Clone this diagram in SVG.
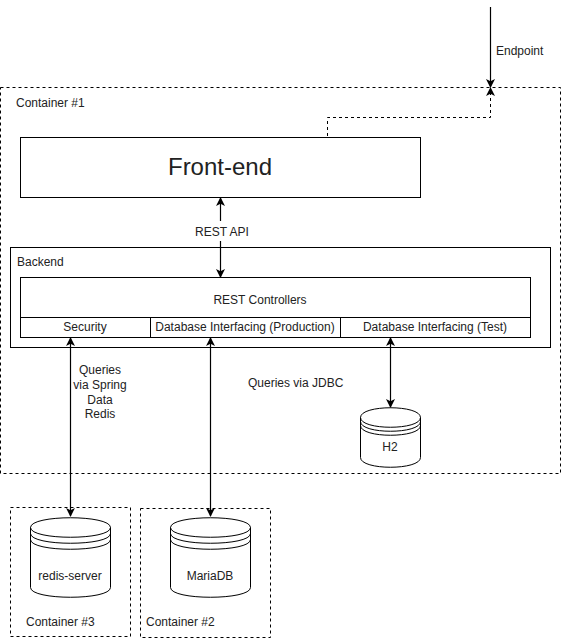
<svg xmlns="http://www.w3.org/2000/svg" width="562" height="642" viewBox="0 0 562 642">
<style>
text{font-family:"Liberation Sans",Arial,sans-serif;font-size:12px;fill:#222}
.m{text-anchor:middle}
.b{fill:#fff;stroke:#000;stroke-width:1}
.d{fill:none;stroke:#000;stroke-width:1;stroke-dasharray:3 3}
.c{fill:none;stroke:#000;stroke-width:1}
.l{fill:none;stroke:#000;stroke-width:1.2}
</style>
<defs>
<marker id="a" viewBox="0 0 10 10" refX="9" refY="5" markerWidth="10" markerHeight="9" markerUnits="userSpaceOnUse" orient="auto-start-reverse"><path d="M0,0 L10,5 L0,10 L2.5,5 Z" fill="#000"/></marker>
</defs>
<rect width="562" height="642" fill="#fff"/>
<g id="container1"><rect class="d" x="0.5" y="87.5" width="560" height="386"/><text x="16" y="107">Container #1</text></g>
<g id="frontend"><rect class="b" x="20.5" y="137.5" width="400" height="60"/><text class="m" x="220" y="175" style="font-size:24px">Front-end</text></g>
<g id="backend"><rect class="b" x="10.5" y="247.5" width="540" height="100"/><text x="17" y="266">Backend</text></g>
<g id="rest-controllers"><rect class="b" x="20.5" y="277.5" width="510" height="40"/><text class="m" x="260" y="304">REST Controllers</text></g>
<g id="security"><rect class="b" x="20.5" y="317.5" width="130" height="20"/><text class="m" x="85" y="331">Security</text></g>
<g id="db-production"><rect class="b" x="150.5" y="317.5" width="190" height="20"/><text class="m" x="245" y="331">Database Interfacing (Production)</text></g>
<g id="db-test"><rect class="b" x="340.5" y="317.5" width="190" height="20"/><text class="m" x="435" y="331">Database Interfacing (Test)</text></g>
<g id="container3"><rect class="d" x="10.5" y="507.5" width="120" height="129"/><text x="26" y="626">Container #3</text></g>
<g id="container2"><rect class="d" x="140.5" y="508.5" width="130" height="129"/><text x="146" y="626">Container #2</text></g>
<g id="redis-server"><path class="b" d="M30.5,527.5C30.5,514.5 110.5,514.5 110.5,527.5V587.5C110.5,600.5 30.5,600.5 30.5,587.5Z"/><path class="c" d="M30.5,527.5C30.5,540.5 110.5,540.5 110.5,527.5M30.5,533.5C30.5,546.5 110.5,546.5 110.5,533.5M30.5,539.5C30.5,552.5 110.5,552.5 110.5,539.5"/><text class="m" x="70" y="580">redis-server</text></g>
<g id="mariadb"><path class="b" d="M170.5,527.5C170.5,514.5 250.5,514.5 250.5,527.5V587.5C250.5,600.5 170.5,600.5 170.5,587.5Z"/><path class="c" d="M170.5,527.5C170.5,540.5 250.5,540.5 250.5,527.5M170.5,533.5C170.5,546.5 250.5,546.5 250.5,533.5M170.5,539.5C170.5,552.5 250.5,552.5 250.5,539.5"/><text class="m" x="210" y="580">MariaDB</text></g>
<g id="h2"><path class="b" d="M360.5,417.5C360.5,404.5 420.5,404.5 420.5,417.5V457.5C420.5,470.5 360.5,470.5 360.5,457.5Z"/><path class="c" d="M360.5,417.5C360.5,430.5 420.5,430.5 420.5,417.5M360.5,421.5C360.5,434.5 420.5,434.5 420.5,421.5M360.5,425.5C360.5,438.5 420.5,438.5 420.5,425.5"/><text class="m" x="390" y="451">H2</text></g>
<g id="connectors">
<path class="l" d="M490.5,7V87" marker-end="url(#a)"/>
<path class="c" stroke-dasharray="3 3" d="M327.5,136V117.5H490.5V88" marker-end="url(#a)"/>
<path class="l" d="M220.5,221V198" marker-end="url(#a)"/>
<path class="l" d="M220.5,241V277" marker-end="url(#a)"/>
<path class="l" d="M70.5,338V516" marker-start="url(#a)" marker-end="url(#a)"/>
<path class="l" d="M210.5,338V516" marker-start="url(#a)" marker-end="url(#a)"/>
<path class="l" d="M390.5,338V407" marker-start="url(#a)" marker-end="url(#a)"/>
</g>
<g id="labels">
<text x="496" y="55">Endpoint</text>
<text class="m" x="222" y="236">REST API</text>
<text class="m" x="100" y="374">Queries</text>
<text class="m" x="100" y="389">via Spring</text>
<text class="m" x="100" y="404">Data</text>
<text class="m" x="100" y="418">Redis</text>
<text x="248" y="387">Queries via JDBC</text>
</g>
</svg>
